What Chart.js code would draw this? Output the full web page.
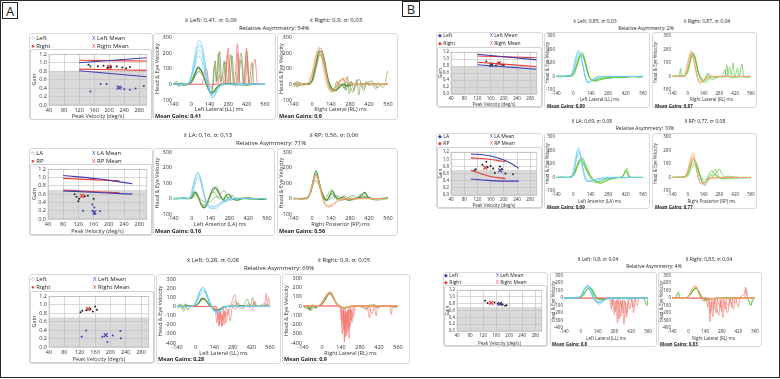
<!DOCTYPE html>
<html><head><meta charset="utf-8">
<script src="https://cdn.jsdelivr.net/npm/chart.js@4.4.1/dist/chart.umd.min.js"></script>
<style>
html,body{margin:0;padding:0;background:#fff;}
body{width:780px;height:379px;position:relative;overflow:hidden;font-family:"Open Sans","Noto Sans",sans-serif;color:#222;}
.ab{position:absolute;box-sizing:border-box;}
.t{position:absolute;white-space:nowrap;line-height:1;}
canvas{position:absolute;}
</style></head><body>
<script>
// ---------- DATA ----------
const TRACE_X_TICKS=[-140,0,140,280,420,560];
const SCAT_X_TICKS=[40,80,120,160,200,240,280];
const GAIN_TICKS=[0,0.2,0.4,0.6,0.8,1.0,1.2];
const VEL_TICKS_A=[-100,0,100,200,300];
const VEL_TICKS_B=[-400,-300,-200,-100,0,100,200,300];

// Row A1 scatter (Left / Right lateral)
const A1_RIGHT_PTS=[[145,0.95],[150,0.91],[170,0.92],[185,0.93],[195,0.88],[205,0.9],[220,0.91],[235,0.89],[245,0.87],[255,0.9]];
const A1_LEFT_PTS=[[150,0.32],[177,0.5],[193,0.5],[232,0.41],[240,0.37],[255,0.36],[270,0.39],[292,0.45]];
const A1_LEFT_MEAN=[[225,0.41]], A1_RIGHT_MEAN=[[200,0.9]];
const A1_NORM_BLUE_UP=[[120,1.0],[300,1.12]], A1_NORM_BLUE_LO=[[120,0.81],[300,0.67]];
const A1_NORM_RED_UP=[[120,1.06],[300,1.04]], A1_NORM_RED_LO=[[120,0.85],[300,0.82]];
// Row A2 scatter (LA / RP)
const A2_RP_PTS=[[110,0.6],[115,0.54],[120,0.43],[122,0.49],[137,0.55],[145,0.56],[160,0.49]];
const A2_LA_PTS=[[132,0.2],[157,0.35],[157,0.2],[162,0.28],[163,0.12],[177,0.19]];
const A2_LA_MEAN=[[162,0.16]], A2_RP_MEAN=[[130,0.56]];
const A2_NORM_BLUE_UP=[[80,1.05],[170,0.97],[262,0.85]], A2_NORM_BLUE_LO=[[80,0.68],[262,0.6]];
const A2_NORM_RED_UP=[[80,0.98],[228,0.92]], A2_NORM_RED_LO=[[80,0.7],[228,0.63]];
// Row A3 scatter
const A3_RIGHT_PTS=[[122,0.82],[127,0.86],[137,0.87],[148,0.9],[154,0.84],[160,0.96],[165,0.88]];
const A3_LEFT_PTS=[[125,0.24],[137,0.39],[179,0.24],[192,0.12],[206,0.27],[226,0.38],[227,0.21]];
const A3_LEFT_MEAN=[[188,0.28]], A3_RIGHT_MEAN=[[142,0.9]];
// Row B1 scatter
const B1_PTS=[[147,0.93],[160,0.82],[165,0.86],[176,0.82],[186,0.89],[195,0.84],[200,0.83]];
const B1_LEFT_MEAN=[[162,0.84]], B1_RIGHT_MEAN=[[185,0.88]];
const B1_NORM_BLUE_UP=[[120,1.14],[300,0.98]], B1_NORM_BLUE_LO=[[120,0.84],[300,0.71]];
const B1_NORM_RED_UP=[[120,1.09],[300,1.04]], B1_NORM_RED_LO=[[120,0.91],[300,0.79]];
// Row B2 scatter
const B2_PTS=[[111,0.69],[115,0.72],[135,0.85],[147,0.93],[151,0.78],[160,0.81],[168,0.74],[173,0.62],[188,0.8],[195,0.72],[205,0.6],[228,0.58]];
const B2_LA_MEAN=[[189,0.69]], B2_RP_MEAN=[[144,0.77]];
const B2_NORM_BLUE_UP=[[100,1.15],[140,1.12],[170,1.07],[200,0.98],[225,0.87],[245,0.75]];
const B2_NORM_BLUE_LO=[[100,0.45],[150,0.41],[200,0.39],[245,0.39]];
const B2_NORM_RED_UP=[[100,1.04],[150,1.01],[180,0.97],[205,0.93]];
const B2_NORM_RED_LO=[[100,0.69],[130,0.6],[160,0.52],[205,0.46]];
// Row B3 scatter
const B3_PTS=[[126,0.89],[134,0.82],[155,0.84],[165,0.8],[174,0.81],[180,0.78],[188,0.74],[192,0.76]];
const B3_LEFT_MEAN=[[172,0.8]], B3_RIGHT_MEAN=[[145,0.83]];

// ---- traces A1 Left Lateral ----
const A1L_H1=[[-140,0],[-60,0],[-30,5],[0,60],[20,150],[40,240],[60,280],[80,250],[100,160],[120,40],[140,-50],[160,-90],[180,-70],[200,-30],[230,-5],[280,0],[560,0]];
const A1L_H2=[[-140,0],[-50,0],[-20,10],[10,90],[30,180],[50,240],[65,250],[85,210],[105,120],[125,10],[145,-60],[165,-80],[190,-50],[220,-10],[270,0],[560,0]];
const A1L_H3=[[-140,0],[-40,0],[-10,20],[20,110],[40,190],[60,215],[80,190],[100,110],[120,20],[140,-40],[160,-70],[185,-50],[215,-10],[260,0],[560,0]];
const A1L_H4=[[-140,0],[-40,0],[0,30],[30,130],[55,180],[75,160],[100,80],[125,-10],[150,-60],[175,-55],[205,-15],[250,0],[560,0]];
const A1L_R1=[[-140,0],[80,0],[100,80],[115,100],[130,20],[150,-20],[170,0],[250,0],[265,100],[280,230],[295,40],[310,0],[335,60],[350,260],[365,30],[380,0],[400,0],[420,230],[435,20],[450,0],[470,100],[485,160],[500,20],[520,0],[560,0]];
const A1L_R2=[[-140,0],[200,0],[215,60],[230,0],[255,0],[275,190],[290,0],[340,0],[355,200],[370,0],[410,0],[425,180],[440,0],[560,0]];
const A1L_S1=[[-140,0],[-110,20],[-90,-15],[-70,10],[-40,0],[0,15],[30,60],[60,80],[90,50],[120,0],[145,-50],[160,-20],[175,120],[190,10],[205,200],[220,30],[240,0],[260,140],[275,10],[300,190],[320,5],[340,0],[380,200],[400,10],[420,0],[450,0],[560,0]];
const A1L_S2=[[-140,0],[-100,0],[-50,0],[0,10],[40,70],[70,90],[100,40],[130,-40],[150,-60],[165,0],[180,150],[195,20],[215,210],[230,20],[250,150],[265,0],[290,0],[310,180],[325,10],[350,0],[380,160],[395,0],[420,210],[440,10],[460,140],[475,0],[500,0],[560,0]];
const A1L_E1=[[-140,0],[-120,5],[-100,-10],[-80,10],[-60,0],[-20,0],[0,20],[20,60],[40,90],[60,100],[80,80],[100,40],[120,0],[140,-40],[160,-60],[180,-40],[200,-10],[230,0],[260,5],[300,0],[340,-5],[400,0],[460,5],[520,0],[560,0]];
const A1L_E2=[[-140,0],[-100,5],[-60,-5],[-20,0],[10,30],[30,70],[50,110],[70,95],[90,60],[110,10],[130,-30],[150,-55],[170,-45],[200,-15],[240,0],[300,5],[360,0],[420,-5],[480,0],[560,0]];
// ---- traces A1 Right Lateral ----
const A1R_H1=[[-140,0],[-60,0],[-30,10],[0,70],[20,160],[40,220],[55,235],[75,200],[95,120],[115,30],[135,-30],[160,-50],[185,-20],[210,20],[235,40],[260,30],[290,0],[560,0]];
const A1R_H2=[[-140,0],[-50,0],[-20,20],[10,100],[30,180],[50,215],[70,190],[90,110],[110,20],[130,-40],[155,-45],[180,-10],[210,30],[240,25],[270,0],[560,0]];
const A1R_H3=[[-140,0],[-40,0],[-10,30],[20,120],[45,200],[65,180],[85,100],[105,10],[130,-30],[160,-30],[200,10],[230,30],[260,10],[300,0],[560,0]];
const A1R_E1=[[-140,0],[-120,5],[-100,-10],[-60,5],[-20,0],[0,30],[20,100],[40,180],[60,230],[80,200],[100,120],[120,30],[140,-20],[160,-40],[180,-30],[200,0],[220,-10],[240,-20],[260,0],[290,10],[320,-5],[360,0],[420,5],[480,0],[560,0]];
const A1R_E2=[[-140,0],[-100,0],[-40,0],[0,20],[25,110],[50,200],[70,210],[90,150],[110,60],[130,0],[150,-30],[175,-40],[200,-20],[230,0],[260,-10],[300,0],[400,0],[560,0]];
const A1R_E3=[[-140,0],[-120,10],[-110,-20],[-90,15],[-70,-10],[-40,0],[0,20],[30,120],[55,200],[75,170],[100,90],[120,0],[145,-50],[165,-30],[185,20],[200,-20],[220,10],[240,-30],[260,50],[275,-60],[290,20],[310,-40],[330,30],[345,-70],[360,10],[380,-20],[400,20],[420,-10],[440,0],[470,-30],[490,10],[520,-20],[540,10],[555,80],[560,90]];
const A1R_E4=[[-140,0],[-130,-15],[-110,20],[-90,0],[-60,0],[0,15],[30,100],[60,190],[80,160],[105,70],[125,0],[150,-40],[170,-20],[190,0],[230,40],[250,-40],[270,10],[300,-50],[320,0],[350,30],[380,-40],[400,0],[440,20],[480,-20],[520,0],[560,0]];
// ---- traces A2 Left Anterior ----
const A2L_H1=[[-140,0],[-40,0],[-10,20],[10,90],[30,150],[45,172],[60,150],[80,80],[100,0],[120,-50],[150,-65],[190,-60],[230,-30],[280,-10],[340,0],[560,0]];
const A2L_H2=[[-140,0],[-30,0],[0,30],[20,110],[40,160],[55,150],[75,90],[95,10],[115,-40],[145,-55],[185,-50],[230,-20],[300,0],[560,0]];
const A2L_H3=[[-140,0],[-30,0],[0,20],[25,100],[45,140],[60,125],[80,60],[100,-10],[130,-45],[170,-50],[220,-25],[280,0],[560,0]];
const A2L_E1=[[-140,0],[-100,0],[-60,5],[-20,0],[0,10],[25,40],[45,20],[65,-30],[90,-60],[115,-30],[140,30],[165,70],[185,60],[210,20],[235,-10],[255,20],[275,30],[300,0],[340,-10],[380,0],[420,5],[470,0],[520,-5],[560,0]];
const A2L_E2=[[-140,0],[-80,0],[-30,0],[0,15],[20,50],[40,30],[60,-10],[85,-50],[110,-40],[135,10],[160,50],[180,80],[200,50],[225,0],[250,-20],[275,10],[300,20],[330,0],[400,0],[460,-5],[560,0]];
const A2L_E3=[[-140,0],[-40,0],[0,5],[30,30],[55,-10],[80,-40],[100,-40],[125,0],[150,40],[170,40],[195,10],[220,40],[245,50],[265,10],[290,-10],[330,0],[560,0]];
const A2L_E4=[[-140,0],[-100,5],[-60,0],[0,0],[30,20],[60,0],[90,-20],[120,-30],[150,-10],[180,10],[220,0],[260,10],[300,0],[380,5],[440,-5],[500,0],[560,0]];
// ---- traces A2 Right Posterior ----
const A2R_H1=[[-140,0],[-50,0],[-25,20],[0,90],[15,140],[28,162],[45,130],[65,50],[85,-20],[105,-50],[130,-55],[160,-40],[200,-10],[250,0],[560,0]];
const A2R_H2=[[-140,0],[-40,0],[-15,30],[5,100],[25,150],[40,130],[60,60],[80,0],[100,-40],[130,-50],[170,-30],[220,-5],[560,0]];
const A2R_H3=[[-140,0],[-40,0],[-10,40],[15,120],[32,140],[50,110],[70,30],[95,-30],[125,-45],[160,-30],[210,0],[560,0]];
const A2R_E1=[[-140,0],[-100,0],[-40,0],[-10,40],[10,120],[30,180],[50,120],[70,40],[90,0],[110,-10],[130,20],[150,50],[170,20],[190,0],[230,10],[270,-10],[310,0],[350,10],[390,40],[410,10],[440,0],[500,0],[560,5]];
const A2R_E2=[[-140,0],[-60,0],[-20,20],[5,90],[25,160],[45,130],[65,60],[85,20],[105,-10],[130,10],[150,30],[175,0],[210,-10],[260,0],[300,20],[330,0],[380,10],[420,0],[560,0]];
const A2R_E3=[[-140,0],[-120,5],[-90,-5],[-40,0],[-5,60],[20,150],[40,140],[60,80],[80,30],[100,0],[125,40],[145,60],[165,10],[200,0],[240,20],[270,0],[320,0],[360,30],[385,10],[420,0],[480,-10],[560,0]];
const A2R_E4=[[-140,0],[-30,10],[0,70],[25,120],[50,90],[75,30],[100,-15],[140,0],[180,20],[220,0],[280,-10],[340,0],[400,15],[460,0],[560,0]];
// ---- traces A3 Left Lateral ----
const A3L_H1=[[-140,0],[-40,0],[-10,20],[20,120],[40,190],[55,210],[70,190],[95,100],[120,10],[145,-60],[165,-80],[190,-50],[220,-10],[260,0],[560,0]];
const A3L_H2=[[-140,0],[-30,0],[0,40],[30,150],[50,190],[70,170],[95,80],[120,-10],[150,-60],[180,-50],[215,-10],[260,0],[560,0]];
const A3L_H3=[[-140,0],[-30,0],[5,40],[35,130],[60,165],[80,130],[105,40],[130,-30],[160,-60],[195,-30],[240,0],[560,0]];
const A3L_E1=[[-140,0],[-120,20],[-100,-30],[-80,30],[-60,-40],[-40,10],[-20,0],[10,20],[40,70],[65,80],[90,40],[120,0],[150,-40],[180,-30],[210,0],[260,0],[300,10],[320,40],[340,0],[380,0],[400,30],[420,0],[440,40],[460,0],[500,0],[540,20],[560,0]];
const A3L_E2=[[-140,0],[-100,0],[-60,10],[-20,0],[20,30],[50,90],[75,70],[100,20],[130,-20],[160,-40],[200,-20],[240,0],[300,0],[340,10],[400,0],[560,0]];
const A3L_E3=[[-140,0],[-130,-20],[-110,30],[-90,-50],[-70,20],[-50,0],[0,10],[40,60],[70,80],[100,30],[140,-30],[170,-40],[200,-10],[240,0],[280,20],[300,60],[320,0],[340,-20],[360,0],[390,80],[410,0],[430,100],[445,10],[470,0],[520,30],[540,0],[560,0]];
const A3L_R1=[[-140,0],[140,0],[150,-60],[160,-180],[170,-40],[180,-200],[190,-80],[200,-150],[210,-20],[220,-120],[235,0],[260,0],[280,80],[295,130],[310,20],[330,0],[400,0],[430,-40],[440,0],[520,0],[530,140],[540,20],[550,100],[560,0]];
const A3L_R2=[[-140,0],[150,0],[165,-100],[175,-220],[185,-60],[195,-210],[205,-90],[215,-200],[225,-60],[240,-100],[255,-20],[270,0],[300,-30],[320,0],[350,0],[360,-30],[370,0],[430,0],[445,60],[460,0],[560,0]];
const A3L_R3=[[-140,0],[160,0],[175,-150],[185,-30],[200,-220],[215,-50],[230,-180],[245,-30],[260,-160],[275,-20],[290,0],[560,0]];
// ---- traces A3 Right Lateral ----
const A3R_H1=[[-140,0],[-40,0],[-10,20],[20,90],[45,140],[60,155],[75,130],[100,50],[125,0],[150,-20],[200,-10],[260,0],[560,0]];
const A3R_H2=[[-140,0],[-30,0],[0,30],[30,110],[55,145],[75,120],[100,40],[130,-10],[170,-15],[220,0],[560,0]];
const A3R_E1=[[-140,0],[-110,0],[-90,-40],[-70,10],[-50,-20],[-30,0],[0,20],[30,90],[55,140],[75,110],[100,40],[125,0],[160,-20],[200,-10],[240,0],[300,5],[340,0],[380,10],[420,0],[470,5],[520,0],[560,0]];
const A3R_E2=[[-140,0],[-120,-20],[-100,10],[-80,-50],[-60,0],[-20,0],[10,40],[40,110],[60,145],[80,100],[110,20],[140,-20],[180,-20],[220,0],[300,0],[360,10],[400,-10],[440,0],[500,0],[540,-20],[560,0]];
const A3R_E3=[[-140,0],[-100,-30],[-80,0],[-40,0],[20,60],[50,130],[75,120],[100,50],[130,0],[170,-15],[210,0],[260,0],[330,-30],[360,0],[420,-20],[440,0],[500,0],[560,0]];
const A3R_R1=[[-140,0],[130,0],[140,-100],[150,-300],[158,-60],[165,-390],[172,-80],[180,-320],[188,-40],[196,-250],[205,-20],[215,-150],[225,0],[330,0],[340,-60],[350,-130],[360,-20],[380,0],[500,0],[510,-90],[520,0],[560,0]];
const A3R_R2=[[-140,0],[140,0],[150,-200],[160,-40],[170,-340],[178,-60],[186,-280],[195,-30],[205,-220],[215,-40],[230,-120],[245,0],[300,0],[320,-40],[335,0],[370,-80],[385,-10],[400,-110],[410,0],[560,0]];
const A3R_R3=[[-140,0],[135,0],[145,-150],[155,-20],[162,-260],[170,-30],[180,-200],[190,-60],[200,-350],[210,-40],[220,-180],[235,-20],[250,0],[560,0]];
// ---- traces B1 Left Lateral ----
const B1L_H1=[[-140,0],[-40,0],[-15,20],[10,110],[30,175],[42,192],[55,170],[75,90],[95,0],[115,-50],[135,-40],[160,-20],[200,-5],[250,0],[560,0]];
const B1L_H2=[[-140,0],[-30,0],[-5,30],[20,130],[40,180],[55,160],[75,80],[95,-10],[115,-40],[140,-30],[180,-10],[240,0],[560,0]];
const B1L_H3=[[-140,0],[-30,0],[0,30],[25,120],[45,165],[62,140],[82,60],[102,-20],[125,-45],[155,-25],[200,0],[560,0]];
const B1L_E1=[[-140,0],[-100,-5],[-60,5],[-20,0],[10,30],[35,110],[55,160],[72,175],[90,130],[110,60],[128,0],[150,-30],[175,-30],[200,-20],[240,-15],[280,-10],[320,-5],[360,-10],[400,0],[440,-5],[480,0],[520,-5],[560,0]];
const B1L_E2=[[-140,0],[-110,5],[-70,0],[-30,0],[15,50],[40,130],[62,165],[80,150],[100,80],[120,10],[145,-25],[170,-35],[210,-25],[260,-15],[300,-10],[350,0],[420,-5],[500,0],[560,0]];
const B1L_E3=[[-140,0],[-100,0],[-40,5],[0,10],[30,80],[55,150],[75,155],[95,100],[115,30],[135,-15],[160,-25],[190,-20],[240,-10],[300,-15],[340,-5],[400,-10],[460,0],[560,-5]];
const B1L_E4=[[-140,0],[-60,0],[-10,20],[20,70],[45,130],[68,145],[88,120],[108,50],[130,-10],[155,-30],[185,-35],[230,-20],[280,-10],[330,0],[380,-10],[450,0],[520,-5],[560,0]];
// ---- traces B1 Right Lateral ----
const B1R_H1=[[-140,0],[-50,0],[-25,20],[0,110],[18,170],[30,190],[45,160],[65,70],[85,-10],[105,-50],[130,-40],[160,-10],[200,0],[560,0]];
const B1R_H2=[[-140,0],[-40,0],[-15,30],[10,120],[30,175],[45,150],[65,60],[90,-20],[115,-45],[145,-25],[190,0],[560,0]];
const B1R_H3=[[-140,0],[-40,0],[-10,30],[15,110],[35,160],[52,140],[72,50],[95,-25],[125,-40],[165,-15],[210,0],[560,0]];
const B1R_E1=[[-140,0],[-100,5],[-75,0],[-65,60],[-55,0],[-10,20],[15,100],[38,175],[55,165],[75,100],[95,20],[115,-20],[135,-40],[155,-10],[175,20],[195,-10],[220,-25],[250,-10],[290,0],[330,0],[345,80],[360,0],[400,-10],[460,0],[520,-5],[560,0]];
const B1R_E2=[[-140,0],[-80,0],[-20,10],[10,80],[35,160],[52,170],[72,110],[92,30],[112,-10],[135,-30],[158,-20],[178,20],[200,10],[230,-10],[270,0],[310,-5],[350,0],[370,70],[385,10],[400,100],[415,0],[450,-5],[500,0],[560,0]];
const B1R_E3=[[-140,0],[-100,0],[-30,5],[5,60],[30,140],[50,160],[70,120],[90,40],[110,0],[130,-20],[150,-30],[175,-20],[210,0],[260,-5],[320,0],[420,0],[440,60],[455,0],[480,90],[495,0],[530,-5],[560,0]];
const B1R_E4=[[-140,0],[-60,0],[0,30],[25,120],[45,150],[65,130],[85,60],[105,0],[130,-35],[160,-45],[190,-20],[230,0],[300,0],[330,50],[345,0],[380,0],[560,0]];
// ---- traces B2 Left Anterior ----
const B2L_H1=[[-140,0],[-30,0],[-10,20],[10,100],[28,190],[42,220],[55,180],[72,80],[90,0],[110,-30],[140,-30],[180,-15],[240,-10],[300,0],[560,0]];
const B2L_H2=[[-140,0],[-25,0],[0,30],[20,130],[38,200],[52,180],[70,90],[90,10],[115,-25],[150,-25],[200,-10],[260,0],[560,0]];
const B2L_H3=[[-140,0],[-25,0],[5,40],[25,130],[45,180],[60,150],[80,60],[100,-10],[125,-30],[170,-20],[230,-5],[560,0]];
const B2L_E1=[[-140,0],[-100,0],[-40,0],[0,10],[30,70],[55,130],[72,145],[92,110],[115,60],[140,10],[165,-20],[190,-30],[220,-40],[250,-30],[290,-15],[330,-5],[380,0],[410,30],[425,55],[440,10],[470,0],[520,0],[560,0]];
const B2L_E2=[[-140,0],[-80,0],[-20,5],[15,50],[40,110],[62,140],[82,120],[105,70],[130,20],[155,-10],[185,-35],[215,-45],[245,-35],[280,-20],[320,-10],[360,0],[400,10],[420,40],[440,20],[470,0],[560,0]];
const B2L_E3=[[-140,0],[-60,0],[0,20],[25,80],[50,130],[68,125],[90,80],[115,30],[140,0],[170,-25],[200,-30],[235,-25],[270,-10],[320,0],[390,0],[430,70],[445,20],[460,0],[560,0]];
const B2L_E4=[[-140,0],[-100,5],[-40,0],[10,30],[35,90],[60,120],[80,110],[100,60],[125,20],[150,-20],[180,-40],[210,-25],[250,-15],[300,-5],[350,0],[400,-5],[450,0],[500,0],[560,0]];
// ---- traces B2 Right Posterior ----
const B2R_H1=[[-140,0],[-40,0],[-15,20],[10,90],[30,150],[45,182],[60,150],[80,60],[100,-20],[120,-50],[145,-40],[180,-15],[230,0],[560,0]];
const B2R_H2=[[-140,0],[-30,0],[-5,30],[20,110],[40,160],[55,140],[75,60],[95,-10],[120,-40],[150,-35],[200,-10],[560,0]];
const B2R_H3=[[-140,0],[-30,0],[0,30],[25,100],[45,140],[62,120],[82,40],[105,-30],[135,-45],[170,-20],[220,0],[560,0]];
const B2R_E1=[[-140,0],[-100,0],[-40,5],[0,20],[25,90],[45,140],[65,120],[85,70],[105,20],[125,-30],[145,-50],[165,-20],[185,20],[210,50],[235,30],[260,10],[290,0],[330,-10],[380,0],[430,-5],[480,0],[560,0]];
const B2R_E2=[[-140,0],[-80,0],[-20,10],[10,50],[35,110],[58,130],[80,100],[100,40],[120,-20],[140,-40],[160,-30],[185,0],[215,30],[245,60],[265,20],[290,-10],[320,0],[360,10],[400,0],[460,-5],[560,0]];
const B2R_E3=[[-140,0],[-60,0],[-10,20],[20,70],[45,100],[65,110],[85,80],[110,10],[130,-30],[150,-60],[170,-40],[195,-10],[225,10],[255,40],[280,60],[300,30],[330,0],[380,-10],[430,0],[560,0]];
const B2R_E4=[[-140,0],[-100,5],[-50,0],[0,10],[30,60],[55,90],[75,80],[95,40],[120,0],[145,-20],[170,-10],[200,10],[235,20],[270,0],[310,-10],[350,0],[400,5],[460,0],[560,-5]];
// ---- traces B3 Left Lateral ----
const B3L_H1=[[-140,0],[-30,0],[0,30],[25,110],[45,160],[60,172],[75,150],[95,70],[115,-10],[135,-60],[160,-80],[190,-40],[230,0],[560,0]];
const B3L_H2=[[-140,0],[-25,0],[5,40],[30,120],[52,160],[68,140],[88,60],[110,-20],[135,-60],[165,-50],[210,-10],[560,0]];
const B3L_H3=[[-140,0],[-20,0],[10,40],[35,120],[58,150],[75,125],[95,50],[120,-20],[150,-50],[190,-30],[240,0],[560,0]];
const B3L_E1=[[-140,0],[-100,0],[-40,5],[0,10],[30,60],[55,120],[75,140],[95,110],[115,40],[135,-10],[160,-20],[200,-10],[260,0],[320,5],[400,0],[480,5],[520,0],[540,-60],[550,-100],[560,-20]];
const B3L_E2=[[-140,0],[-80,0],[-20,10],[20,50],[50,110],[72,135],[92,120],[112,60],[135,0],[165,-15],[210,-5],[280,0],[360,5],[440,0],[560,0]];
const B3L_E3=[[-140,0],[-60,0],[0,20],[35,80],[60,120],[82,130],[102,90],[125,20],[150,-15],[190,-15],[240,0],[320,0],[400,-10],[460,0],[560,0]];
const B3L_R1=[[-140,0],[240,0],[255,-150],[265,-20],[280,-220],[292,-40],[305,-330],[318,-60],[332,-250],[345,-30],[360,-350],[372,-50],[385,-200],[400,-20],[420,0],[560,0]];
const B3L_R2=[[-140,0],[250,0],[262,-100],[272,-10],[288,-180],[300,-30],[318,-280],[330,-40],[350,-200],[365,-30],[380,-260],[395,-40],[410,-150],[425,-10],[440,-200],[455,0],[480,0],[560,0]];
const B3L_R3=[[-140,0],[300,0],[310,-80],[320,0],[345,-120],[355,0],[420,0],[435,-120],[450,-10],[470,-100],[485,0],[560,0]];
// ---- traces B3 Right Lateral ----
const B3R_H1=[[-140,0],[-30,0],[0,30],[25,110],[45,155],[56,168],[70,140],[90,60],[110,-10],[135,-40],[170,-20],[220,0],[560,0]];
const B3R_H2=[[-140,0],[-25,0],[5,40],[30,120],[52,150],[68,130],[88,50],[110,-20],[140,-35],[180,-10],[560,0]];
const B3R_E1=[[-140,0],[-110,0],[-95,60],[-85,80],[-75,10],[-50,0],[-10,10],[20,60],[45,120],[62,140],[80,110],[100,40],[120,0],[150,-15],[200,-5],[260,0],[340,5],[420,0],[480,0],[510,-40],[525,-100],[540,-20],[560,0]];
const B3R_E2=[[-140,0],[-100,10],[-60,0],[-20,5],[15,50],[40,110],[60,130],[80,100],[105,30],[130,-10],[160,-20],[210,-5],[280,0],[380,5],[460,0],[560,0]];
const B3R_E3=[[-140,0],[-80,0],[-30,0],[10,40],[38,100],[58,125],[78,110],[98,50],[120,0],[150,-20],[200,-10],[260,0],[340,-10],[400,0],[560,0]];
const B3R_R1=[[-140,0],[150,0],[160,-120],[170,-20],[180,-317],[190,-60],[205,-250],[218,-40],[232,-200],[245,-10],[260,0],[280,-180],[292,-20],[310,-150],[322,0],[350,0],[365,-120],[375,0],[560,0]];
const B3R_R2=[[-140,0],[170,0],[185,-200],[195,-30],[210,-150],[222,0],[255,-230],[268,-30],[290,-260],[302,-50],[330,-200],[345,-20],[380,-150],[392,0],[420,-120],[432,0],[470,60],[480,150],[490,100],[500,0],[560,0]];
const B3R_R3=[[-140,0],[200,0],[215,-80],[228,0],[270,-120],[282,0],[340,-100],[352,0],[400,-60],[412,0],[470,0],[485,120],[495,0],[560,0]];

// ---------- STYLE ----------
const FONT='"Open Sans","Noto Sans",sans-serif';
const C_BLUEH='#6ccbf0', C_ORANGE='#f5a56f', C_RED='#f06a60';
const C_G1='#2e8f2e', C_G2='#4a8530', C_OL='#86a055', C_OL2='#6a9445';
const C_BG='#52c038', C_BG2='#6cc94e';
const C_BLUE='#3d3db4', C_REDM='#ea3b35', C_PT='#222';

function P(a){return a.map(p=>({x:p[0],y:p[1]}));}
function L(a,c,w){return {data:P(a),borderColor:c,borderWidth:w||0.7,pointRadius:0,fill:false,cubicInterpolationMode:'monotone'};}
function el(cls,x,y,w,h,css){const d=document.createElement('div');d.className='ab';d.style.left=x+'px';d.style.top=y+'px';d.style.width=w+'px';d.style.height=h+'px';if(css)d.style.cssText+=css;document.body.appendChild(d);return d;}
function txt(x,y,s,size,o){o=o||{};const d=document.createElement('div');d.className='t';d.innerHTML=s;d.style.fontSize=size+'px';d.style.left=x+'px';d.style.top=y+'px';d.style.transform=o.center?'translate(-50%,-50%)':'translate(0,-50%)';if(o.bold)d.style.fontWeight='700';if(o.color)d.style.color=o.color;document.body.appendChild(d);return d;}
function card(b){el('',b[0],b[1],b[2],b[3],'border:1px solid #d9d9d9;border-radius:3px;background:#fff;');}

function trace(box,plot,yTicks,xTitle,sets,fs,xH){
  const [bx,by,bw,bh]=box,[pl,pt,pr,pb]=plot;
  card(box);
  const c=document.createElement('canvas');c.width=bw;c.height=bh;c.style.left=bx+'px';c.style.top=by+'px';document.body.appendChild(c);
  const tf={size:fs,family:FONT};
  new Chart(c,{type:'line',data:{datasets:sets},options:{
    responsive:false,animation:false,devicePixelRatio:1,
    layout:{padding:{left:0,top:pt-by,right:bx+bw-pr,bottom:by+bh-pb-xH}},
    plugins:{legend:{display:false},tooltip:{enabled:false}},
    scales:{
      x:{type:'linear',min:-140,max:560,afterBuildTicks:s=>{s.ticks=TRACE_X_TICKS.map(v=>({value:v}));},afterFit:s=>{s.height=xH;},
        grid:{display:false,drawTicks:false},border:{display:false},
        ticks:{font:tf,color:'#333',padding:1,maxRotation:0,autoSkip:false},
        title:{display:true,text:xTitle,font:tf,color:'#333',padding:{top:0,bottom:0}}},
      y:{type:'linear',min:yTicks[0],max:yTicks[yTicks.length-1],afterBuildTicks:s=>{s.ticks=yTicks.map(v=>({value:v}));},afterFit:s=>{s.width=pl-bx;},
        grid:{display:false,drawTicks:false},border:{display:false},
        ticks:{font:tf,color:'#333',padding:1,autoSkip:false},
        title:{display:true,text:'Head & Eye Velocity',font:tf,color:'#333',padding:{top:1,bottom:0}}}
    }}});
}

function scatter(outer,inner,plot,xH,grayTop,sets,fs,comma){
  card(outer);
  const [bx,by,bw,bh]=inner,[pl,pt,pr,pb]=plot;
  el('',bx,by,bw,bh,'border:1px solid #d2d2d2;border-radius:2px;');
  const c=document.createElement('canvas');c.width=bw;c.height=bh;c.style.left=bx+'px';c.style.top=by+'px';document.body.appendChild(c);
  const tf={size:fs,family:FONT};
  const gray={id:'gray',beforeDraw(ch){const a=ch.chartArea,y=ch.scales.y,ctx=ch.ctx;const yt=y.getPixelForValue(grayTop);ctx.save();ctx.fillStyle='#d9d9d9';ctx.fillRect(a.left,yt,a.right-a.left,a.bottom-yt);ctx.restore();},
    afterDraw(ch){const a=ch.chartArea,ctx=ch.ctx;ctx.save();ctx.strokeStyle='#b5b5b5';ctx.lineWidth=0.6;ctx.strokeRect(a.left,a.top,a.right-a.left,a.bottom-a.top);ctx.restore();}};
  new Chart(c,{type:'scatter',data:{datasets:sets},plugins:[gray],options:{
    responsive:false,animation:false,devicePixelRatio:1,
    layout:{padding:{left:0,top:pt-by,right:bx+bw-pr,bottom:Math.max(0,by+bh-pb-xH)}},
    plugins:{legend:{display:false},tooltip:{enabled:false}},
    scales:{
      x:{type:'linear',min:40,max:300,afterBuildTicks:s=>{s.ticks=SCAT_X_TICKS.map(v=>({value:v}));},afterFit:s=>{s.height=xH;},
        grid:{color:'#bdbdbd',lineWidth:0.6,drawTicks:false},border:{display:false},
        ticks:{font:tf,color:'#333',padding:2,maxRotation:0,autoSkip:false},
        title:{display:true,text:'Peak Velocity (deg/s)',font:tf,color:'#333',padding:{top:0,bottom:0}}},
      y:{type:'linear',min:0,max:1.2,afterBuildTicks:s=>{s.ticks=GAIN_TICKS.map(v=>({value:v}));},afterFit:s=>{s.width=pl-bx;},
        grid:{color:'#bdbdbd',lineWidth:0.6,drawTicks:false},border:{display:false},
        ticks:{font:tf,color:'#333',padding:2,autoSkip:false,callback:v=>{const s=Number(v).toFixed(1);return comma?s.replace('.',','):s;}},
        title:{display:true,text:'Gain',font:tf,color:'#333',padding:{top:1,bottom:0}}}
    }}});
}
function pts(a,c){return {data:P(a),pointRadius:1,pointBorderWidth:0,backgroundColor:c,borderColor:c};}
function mean(a,c){return {data:P(a),pointStyle:'crossRot',pointRadius:2.8,pointBorderWidth:1.2,borderColor:c,backgroundColor:c};}
function norm(a,c){return {data:P(a),showLine:true,borderColor:c,borderWidth:1.1,pointRadius:0,tension:0.4};}
function legend(xa,xb,y1,y2,n1,n2,fs,diamond){
  const s1=diamond?'<span style="color:'+C_BLUE+'">&#9670;</span>':'<span style="color:'+C_BLUE+'">&#9675;</span>';
  const s2=diamond?'<span style="color:'+C_REDM+'">&#9670;</span>':'<span style="color:'+C_REDM+'">&#9679;</span>';
  txt(xa,y1,s1+' '+n1,fs);txt(xa,y2,s2+' '+n2,fs);
  txt(xb,y1,'<span style="color:'+C_BLUE+'">X</span> '+n1+' Mean',fs);
  txt(xb,y2,'<span style="color:'+C_REDM+'">X</span> '+n2+' Mean',fs);
}
const XB='x&#772;';
function titles(xl,xr,xm,y1,y2,l,r,m,fs){txt(xl,y1,XB+' '+l,fs,{center:true});txt(xr,y1,XB+' '+r,fs,{center:true});txt(xm,y2,'Relative Asymmetry: '+m,fs,{center:true});}

// ---------- FRAME ----------
el('',0,0,780,378,'border:1.5px solid #2a2a2a;');
el('',2,2,16,17,'border:1px solid #222;background:#fff;');
txt(10,10.5,'A',13,{center:true});
el('',402,1,18,16,'border:1px solid #222;background:#fff;');
txt(411,9,'B',13,{center:true});

// ---------- PANEL A ----------
const FA=5.5;
// A1
titles(211,336,274,20,28,'Left: 0,41, &sigma;: 0,06','Right: 0,9, &sigma;: 0,03','54%',6);
scatter([29,33,124,87],[30,49,122,71],[49,53,150,105],15,0.8,[
  norm(A1_NORM_BLUE_UP,C_BLUE),norm(A1_NORM_BLUE_LO,C_BLUE),norm(A1_NORM_RED_UP,C_REDM),norm(A1_NORM_RED_LO,C_REDM),
  pts(A1_RIGHT_PTS,C_PT),pts(A1_LEFT_PTS,C_BLUE),mean(A1_LEFT_MEAN,C_BLUE),mean(A1_RIGHT_MEAN,C_REDM)],FA,false);
legend(31,92,37.5,45.5,'Left','Right',6,false);
trace([153,33,123,87],[173,36,265,100],VEL_TICKS_A,'Left Lateral (LL) ms',[
  L(A1L_H1,C_BLUEH),L(A1L_H2,C_BLUEH),L(A1L_H3,C_BLUEH),L(A1L_H4,C_BLUEH),
  L(A1L_R1,C_RED),L(A1L_R2,C_RED),L(A1L_S1,C_OL),L(A1L_S2,C_OL2),
  L(A1L_E1,C_G2),L(A1L_E2,C_G1,1.2)],FA,13);
trace([277,33,121,87],[293,36,388,100],VEL_TICKS_A,'Right Lateral (RL) ms',[
  L(A1R_H1,C_ORANGE),L(A1R_H2,C_ORANGE),L(A1R_H3,C_ORANGE),
  L(A1R_E3,C_OL),L(A1R_E4,C_OL2),L(A1R_E1,C_G2),L(A1R_E2,C_G1,1.2)],FA,13);
txt(155,117,'Mean Gains: 0,41',FA,{bold:true});
txt(279,117,'Mean Gains: 0,9',FA,{bold:true});
// A2
titles(208,334,271,135,143,'LA: 0,16, &sigma;: 0,13','RP: 0,56, &sigma;: 0,06','71%',6);
scatter([29,148,124,88],[30,164,122,71],[48,168,151,219],16,0.7,[
  norm(A2_NORM_BLUE_UP,C_BLUE),norm(A2_NORM_BLUE_LO,C_BLUE),norm(A2_NORM_RED_UP,C_REDM),norm(A2_NORM_RED_LO,C_REDM),
  pts(A2_RP_PTS,C_PT),pts(A2_LA_PTS,C_BLUE),mean(A2_LA_MEAN,C_BLUE),mean(A2_RP_MEAN,C_REDM)],FA,false);
legend(31,92,153,161,'LA','RP',6,false);
trace([153,148,122,88],[173,152,267,214],VEL_TICKS_A,'Left Anterior (LA) ms',[
  L(A2L_H1,C_BLUEH),L(A2L_H2,C_BLUEH),L(A2L_H3,C_BLUEH),
  L(A2L_E3,C_OL),L(A2L_E4,C_BG),L(A2L_E2,C_OL2),L(A2L_E1,C_G1,1.1)],FA,14);
trace([277,148,121,88],[293,152,388,214],VEL_TICKS_A,'Right Posterior (RP) ms',[
  L(A2R_H1,C_ORANGE),L(A2R_H2,C_ORANGE),L(A2R_H3,C_ORANGE),
  L(A2R_E3,C_OL),L(A2R_E4,C_OL2),L(A2R_E2,C_G2),L(A2R_E1,C_G1,1.1)],FA,14);
txt(155,232,'Mean Gains: 0,16',FA,{bold:true});
txt(279,232,'Mean Gains: 0,56',FA,{bold:true});
// A3
titles(213,344,279,260,268,'Left: 0,28, &sigma;: 0,08','Right: 0,9, &sigma;: 0,05','69%',6);
scatter([29,274,126,90],[30,291,124,72],[49,293,152,347],16,0.7,[
  pts(A3_RIGHT_PTS,C_PT),pts(A3_LEFT_PTS,C_BLUE),mean(A3_LEFT_MEAN,C_BLUE),mean(A3_RIGHT_MEAN,C_REDM)],FA,false);
legend(31,93,279,287,'Left','Right',6,false);
trace([156,274,125,90],[177,279,270,343],VEL_TICKS_B,'Left Lateral (LL) ms',[
  L(A3L_H1,C_BLUEH,1),L(A3L_H2,C_BLUEH,1),L(A3L_H3,C_BLUEH,1),
  L(A3L_R1,C_RED,0.6),L(A3L_R2,C_RED,0.6),L(A3L_R3,C_RED,0.6),
  L(A3L_E3,C_OL),L(A3L_E1,C_OL2),L(A3L_E2,C_G1,1.2)],FA,14);
trace([282,274,128,90],[303,278,398,343],VEL_TICKS_B,'Right Lateral (RL) ms',[
  L(A3R_H1,C_ORANGE,1.1),L(A3R_H2,C_ORANGE,1.1),
  L(A3R_R1,C_RED,0.6),L(A3R_R2,C_RED,0.6),L(A3R_R3,C_RED,0.6),
  L(A3R_E3,C_OL),L(A3R_E2,C_OL2),L(A3R_E1,C_G1,1.2)],FA,14);
txt(158,360,'Mean Gains: 0,28',FA,{bold:true});
txt(284,360,'Mean Gains: 0,9',FA,{bold:true});

// ---------- PANEL B ----------
const FB=4.5;
// B1
titles(595,707,646,21,28,'Left: 0,85, &sigma;: 0,03','Right: 0,87, &sigma;: 0,04','2%',5);
scatter([436,32,107,76],[437,47,105,60],[451,49,540,94],13,0.8,[
  norm(B1_NORM_BLUE_UP,C_BLUE),norm(B1_NORM_BLUE_LO,C_BLUE),norm(B1_NORM_RED_UP,C_REDM),norm(B1_NORM_RED_LO,C_REDM),
  pts(B1_PTS,C_PT),mean(B1_LEFT_MEAN,C_BLUE),mean(B1_RIGHT_MEAN,C_REDM)],FB,true);
legend(438,490,35,43,'Left','Right',5,true);
trace([544,32,106,76],[556,34,643,90],VEL_TICKS_A,'Left Lateral (LL) ms',[
  L(B1L_H1,C_BLUEH),L(B1L_H2,C_BLUEH),L(B1L_H3,C_BLUEH),
  L(B1L_E1,C_BG),L(B1L_E2,C_BG2),L(B1L_E3,C_BG),L(B1L_E4,C_BG2)],FB,12);
trace([652,32,105,76],[672,34,751,90],VEL_TICKS_A,'Right Lateral (RL) ms',[
  L(B1R_H1,C_ORANGE),L(B1R_H2,C_ORANGE),L(B1R_H3,C_ORANGE),
  L(B1R_E1,C_BG),L(B1R_E2,C_BG2),L(B1R_E3,C_BG),L(B1R_E4,C_BG2)],FB,12);
txt(547,106,'Mean Gains: 0,89',FB,{bold:true});
txt(655,106,'Mean Gains: 0,87',FB,{bold:true});
// B2
titles(592,705,645,121,128,'LA: 0,69, &sigma;: 0,08','RP: 0,77, &sigma;: 0,08','10%',5);
scatter([436,133,107,76],[437,147,105,61],[451,150,541,195],13,0.7,[
  norm(B2_NORM_BLUE_UP,C_BLUE),norm(B2_NORM_BLUE_LO,C_BLUE),norm(B2_NORM_RED_UP,C_REDM),norm(B2_NORM_RED_LO,C_REDM),
  pts(B2_PTS,C_PT),mean(B2_LA_MEAN,C_BLUE),mean(B2_RP_MEAN,C_REDM)],FB,true);
legend(438,490,136,143,'LA','RP',5,true);
trace([544,133,106,76],[556,136,643,191],VEL_TICKS_A,'Left Anterior (LA) ms',[
  L(B2L_H1,C_BLUEH),L(B2L_H2,C_BLUEH),L(B2L_H3,C_BLUEH),
  L(B2L_E1,C_BG),L(B2L_E2,C_BG2),L(B2L_E3,C_BG),L(B2L_E4,C_BG2)],FB,13);
trace([652,133,105,76],[672,136,751,191],VEL_TICKS_A,'Right Posterior (RP) ms',[
  L(B2R_H1,C_ORANGE),L(B2R_H2,C_ORANGE),L(B2R_H3,C_ORANGE),
  L(B2R_E1,C_BG),L(B2R_E2,C_BG2),L(B2R_E3,C_BG),L(B2R_E4,C_BG2)],FB,13);
txt(547,207,'Mean Gains: 0,69',FB,{bold:true});
txt(655,207,'Mean Gains: 0,77',FB,{bold:true});
// B3
titles(598,709,654,259,266,'Left: 0,8, &sigma;: 0,04','Right: 0,83, &sigma;: 0,04','4%',5);
scatter([443,272,105,75],[444,285,103,61],[457,289,547,331],15,0.7,[
  pts(B3_PTS,C_PT),mean(B3_LEFT_MEAN,C_BLUE),mean(B3_RIGHT_MEAN,C_REDM)],FB,true);
legend(444,496,275,282,'Left','Right',5,true);
trace([550,272,107,75],[564,274,648,328],VEL_TICKS_B,'Left Lateral (LL) ms',[
  L(B3L_H1,C_BLUEH,1),L(B3L_H2,C_BLUEH,1),L(B3L_H3,C_BLUEH,1),
  L(B3L_R1,C_RED,0.6),L(B3L_R2,C_RED,0.6),L(B3L_R3,C_RED,0.6),
  L(B3L_E1,C_BG,1),L(B3L_E2,C_BG2,1),L(B3L_E3,C_BG,1)],FB,13);
trace([658,272,104,75],[672,274,755,328],VEL_TICKS_B,'Right Lateral (RL) ms',[
  L(B3R_H1,C_ORANGE,1),L(B3R_H2,C_ORANGE,1),
  L(B3R_R1,C_RED,0.6),L(B3R_R2,C_RED,0.6),L(B3R_R3,C_RED,0.6),
  L(B3R_E1,C_BG,1),L(B3R_E2,C_BG2,1),L(B3R_E3,C_BG,1)],FB,13);
txt(552,344,'Mean Gains: 0,8',FB,{bold:true});
txt(660,344,'Mean Gains: 0,83',FB,{bold:true});
</script></body></html>
